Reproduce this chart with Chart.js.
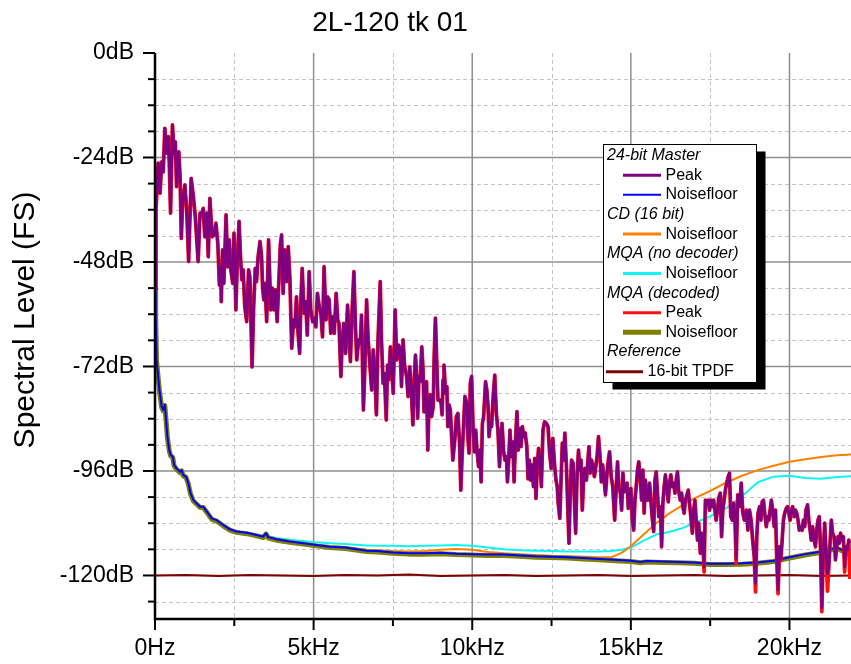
<!DOCTYPE html>
<html>
<head>
<meta charset="utf-8">
<script src="https://cdn.jsdelivr.net/npm/chart.js@4/dist/chart.umd.min.js"></script>
<style>
  html, body { margin: 0; padding: 0; background: #fff; }
</style>
</head>
<body>
<canvas id="spectrumChart" width="851" height="664"></canvas>
<script>
const FONT = 'Arial, "Liberation Sans", sans-serif';

// axis ticks (kHz / dB)
const xMajorTicks = [0, 5, 10, 15, 20];
const xTickLabels = ['0Hz', '5kHz', '10kHz', '15kHz', '20kHz'];
const xMinorTicks = [2.5, 7.5, 12.5, 17.5];
const yMajorTicks = [0, -24, -48, -72, -96, -120];
const yTickLabels = ['0dB', '-24dB', '-48dB', '-72dB', '-96dB', '-120dB'];
const yMinorTicks = [-6, -12, -18, -30, -36, -42, -54, -60, -66, -78, -84, -90, -102, -108, -114, -126];

// 24-bit master, peak spectrum [kHz, dB]
const masterPeak = [
  [0.00,-54.4],[0.03,-36.1],[0.10,-25.3],[0.16,-32.2],[0.21,-25.0],[0.26,-27.3],[0.31,-17.3],[0.37,-23.0],
  [0.42,-19.2],[0.45,-25.3],[0.49,-36.8],[0.55,-16.5],[0.60,-23.0],[0.64,-20.4],[0.68,-30.7],[0.75,-22.7],
  [0.79,-28.4],[0.83,-42.6],[0.87,-34.5],[0.94,-30.3],[1.00,-36.1],[1.06,-47.9],[1.14,-28.8],[1.21,-33.0],
  [1.27,-37.6],[1.31,-42.2],[1.36,-47.9],[1.42,-36.8],[1.47,-37.2],[1.52,-35.7],[1.57,-42.2],[1.63,-36.8],
  [1.68,-46.8],[1.73,-33.4],[1.80,-42.2],[1.86,-41.8],[1.92,-39.1],[1.98,-43.7],[2.03,-53.3],[2.07,-49.1],
  [2.09,-57.1],[2.13,-45.2],[2.17,-52.9],[2.24,-37.2],[2.29,-49.1],[2.34,-42.9],[2.39,-49.8],[2.45,-52.9],
  [2.49,-41.4],[2.55,-59.0],[2.59,-49.1],[2.65,-38.7],[2.70,-47.5],[2.74,-52.1],[2.78,-49.8],[2.83,-58.3],
  [2.89,-61.7],[2.95,-49.8],[2.99,-51.4],[3.06,-72.1],[3.11,-58.3],[3.16,-49.5],[3.20,-52.5],[3.25,-46.8],
  [3.31,-43.3],[3.36,-46.8],[3.39,-53.7],[3.43,-56.7],[3.47,-52.9],[3.52,-61.7],[3.58,-42.9],[3.65,-59.0],
  [3.70,-54.0],[3.75,-59.0],[3.80,-54.4],[3.85,-61.7],[3.91,-51.4],[3.95,-44.1],[3.99,-41.8],[4.04,-55.2],
  [4.09,-45.2],[4.15,-52.5],[4.20,-44.5],[4.25,-51.4],[4.31,-67.8],[4.37,-61.3],[4.41,-62.9],[4.46,-56.0],
  [4.51,-64.4],[4.56,-69.0],[4.60,-56.7],[4.64,-49.5],[4.70,-59.8],[4.75,-57.1],[4.80,-64.8],[4.86,-50.2],
  [4.91,-59.0],[4.97,-61.7],[5.02,-60.9],[5.07,-62.9],[5.12,-55.2],[5.18,-58.3],[5.23,-59.8],[5.28,-65.2],
  [5.33,-49.1],[5.39,-61.3],[5.44,-56.0],[5.49,-56.7],[5.54,-64.4],[5.60,-60.6],[5.65,-64.4],[5.71,-55.2],
  [5.76,-61.3],[5.80,-62.1],[5.86,-74.3],[5.90,-66.7],[5.95,-62.1],[6.01,-69.0],[6.07,-57.9],[6.11,-63.6],
  [6.16,-70.9],[6.21,-59.8],[6.27,-50.2],[6.32,-62.9],[6.36,-70.5],[6.42,-65.9],[6.47,-66.7],[6.51,-60.2],
  [6.57,-82.0],[6.61,-73.6],[6.67,-56.7],[6.72,-65.9],[6.77,-71.3],[6.83,-77.4],[6.88,-68.2],[6.93,-73.6],
  [6.98,-83.1],[7.03,-65.9],[7.10,-52.5],[7.14,-66.0],[7.19,-75.9],[7.23,-73.6],[7.29,-84.3],[7.33,-71.7],
  [7.37,-75.1],[7.42,-67.5],[7.46,-72.1],[7.51,-78.2],[7.57,-59.0],[7.62,-70.5],[7.68,-67.1],[7.73,-68.2],
  [7.77,-76.6],[7.82,-65.9],[7.87,-72.1],[7.93,-74.3],[7.98,-78.9],[8.03,-72.1],[8.08,-77.4],[8.13,-85.4],
  [8.17,-75.9],[8.21,-69.4],[8.25,-74.3],[8.28,-83.9],[8.32,-74.3],[8.36,-75.5],[8.41,-67.5],[8.45,-72.8],
  [8.48,-82.4],[8.51,-80.5],[8.56,-75.5],[8.60,-91.2],[8.64,-79.7],[8.68,-78.5],[8.72,-83.5],[8.77,-81.2],
  [8.80,-69.8],[8.84,-60.9],[8.88,-70.5],[8.92,-79.7],[8.98,-79.7],[9.02,-80.5],[9.05,-83.1],[9.08,-75.1],
  [9.11,-71.7],[9.16,-78.2],[9.20,-76.6],[9.23,-85.8],[9.27,-80.8],[9.31,-82.0],[9.35,-88.1],[9.39,-93.5],
  [9.45,-88.9],[9.50,-83.5],[9.55,-82.8],[9.60,-89.6],[9.64,-100.4],[9.68,-92.7],[9.72,-86.6],[9.77,-78.9],
  [9.83,-80.5],[9.86,-88.1],[9.90,-91.9],[9.94,-75.9],[9.98,-74.3],[10.03,-86.6],[10.07,-91.6],[10.11,-86.6],
  [10.15,-91.2],[10.20,-95.0],[10.24,-91.2],[10.28,-98.5],[10.32,-85.1],[10.36,-83.5],[10.42,-75.5],[10.46,-77.4],
  [10.50,-81.2],[10.53,-88.1],[10.57,-85.1],[10.61,-85.8],[10.66,-78.9],[10.71,-74.0],[10.76,-82.8],[10.81,-86.6],
  [10.86,-95.0],[10.90,-88.9],[10.94,-85.1],[10.99,-91.6],[11.03,-93.5],[11.08,-92.7],[11.11,-98.5],[11.15,-93.5],
  [11.19,-86.6],[11.23,-92.7],[11.28,-89.3],[11.32,-98.5],[11.36,-89.6],[11.41,-82.4],[11.45,-91.2],[11.50,-86.2],
  [11.54,-90.4],[11.58,-85.8],[11.62,-88.1],[11.67,-87.3],[11.72,-90.4],[11.76,-97.8],[11.80,-93.5],[11.84,-98.1],
  [11.88,-94.6],[11.93,-99.6],[11.97,-93.1],[12.01,-102.3],[12.05,-95.0],[12.09,-90.8],[12.14,-94.2],[12.18,-99.6],
  [12.23,-86.6],[12.28,-84.7],[12.34,-85.1],[12.39,-85.8],[12.44,-91.9],[12.49,-95.4],[12.54,-88.5],[12.60,-95.0],
  [12.64,-98.1],[12.68,-99.6],[12.71,-103.4],[12.76,-106.9],[12.80,-98.1],[12.84,-89.6],[12.88,-93.5],[12.92,-87.3],
  [12.97,-95.0],[13.01,-104.2],[13.05,-112.6],[13.09,-101.1],[13.13,-93.5],[13.18,-94.2],[13.22,-102.7],[13.26,-110.3],
  [13.30,-98.1],[13.35,-91.2],[13.39,-95.8],[13.43,-93.5],[13.47,-105.0],[13.51,-98.1],[13.55,-95.4],[13.60,-98.1],
  [13.64,-94.2],[13.68,-90.4],[13.72,-96.5],[13.76,-93.5],[13.81,-95.0],[13.85,-97.3],[13.89,-95.4],[13.94,-92.3],
  [13.98,-88.1],[14.03,-92.7],[14.07,-98.5],[14.11,-94.6],[14.15,-97.3],[14.20,-101.5],[14.25,-96.5],[14.29,-93.5],
  [14.33,-91.6],[14.38,-97.3],[14.43,-99.6],[14.49,-107.3],[14.54,-99.6],[14.58,-93.9],[14.62,-99.6],[14.67,-101.1],
  [14.71,-105.0],[14.75,-96.5],[14.79,-100.8],[14.83,-100.0],[14.88,-98.8],[14.92,-104.6],[14.96,-101.9],[15.00,-100.0],
  [15.05,-107.3],[15.09,-109.6],[15.13,-102.7],[15.17,-99.6],[15.21,-95.8],[15.25,-93.9],[15.30,-98.1],[15.34,-102.7],
  [15.38,-95.8],[15.42,-105.7],[15.46,-98.1],[15.51,-102.7],[15.55,-102.7],[15.59,-98.8],[15.63,-102.7],[15.67,-106.5],
  [15.72,-109.9],[15.76,-98.1],[15.80,-96.2],[15.84,-101.1],[15.88,-106.5],[15.93,-104.2],[15.97,-113.4],[16.01,-103.4],
  [16.05,-99.6],[16.09,-96.9],[16.14,-100.4],[16.18,-103.1],[16.22,-98.8],[16.26,-96.9],[16.30,-99.6],[16.35,-98.8],
  [16.39,-101.1],[16.43,-98.1],[16.47,-96.2],[16.51,-100.8],[16.56,-102.7],[16.60,-101.1],[16.64,-104.2],[16.68,-105.7],
  [16.72,-102.7],[16.77,-101.5],[16.81,-100.4],[16.85,-103.4],[16.89,-106.5],[16.94,-110.3],[16.98,-105.0],[17.02,-102.7],
  [17.06,-107.3],[17.10,-111.9],[17.14,-108.0],[17.19,-114.9],[17.23,-110.3],[17.27,-111.9],[17.31,-118.0],[17.35,-102.7],
  [17.40,-103.4],[17.44,-102.7],[17.48,-105.0],[17.52,-102.7],[17.56,-104.2],[17.61,-102.7],[17.65,-105.0],[17.69,-107.3],
  [17.73,-105.0],[17.77,-102.3],[17.82,-101.1],[17.86,-111.1],[17.90,-105.0],[17.94,-102.7],[17.98,-100.4],[18.02,-98.8],
  [18.07,-97.3],[18.11,-96.5],[18.15,-106.5],[18.20,-107.3],[18.24,-103.4],[18.28,-106.5],[18.32,-116.1],[18.37,-101.5],
  [18.43,-104.2],[18.48,-98.8],[18.53,-105.7],[18.58,-107.3],[18.64,-105.0],[18.69,-109.6],[18.74,-105.0],[18.79,-107.3],
  [18.84,-111.9],[18.89,-115.7],[18.93,-121.8],[18.97,-111.1],[19.01,-105.7],[19.06,-104.2],[19.10,-107.3],[19.14,-103.1],
  [19.18,-102.7],[19.22,-105.7],[19.27,-108.8],[19.31,-106.5],[19.35,-107.3],[19.39,-105.0],[19.43,-102.7],[19.47,-105.0],
  [19.52,-108.8],[19.56,-105.0],[19.60,-116.4],[19.64,-123.3],[19.69,-113.4],[19.73,-116.4],[19.77,-111.9],[19.81,-107.3],
  [19.85,-105.7],[19.90,-104.6],[19.94,-104.2],[19.98,-105.7],[20.02,-107.3],[20.06,-105.0],[20.10,-104.2],[20.15,-106.5],
  [20.19,-105.0],[20.23,-105.7],[20.27,-107.3],[20.31,-109.6],[20.35,-108.8],[20.40,-109.6],[20.44,-107.3],[20.48,-108.8],
  [20.52,-105.0],[20.57,-103.8],[20.61,-107.3],[20.65,-109.6],[20.69,-111.9],[20.73,-108.8],[20.78,-111.9],[20.82,-113.4],
  [20.86,-109.6],[20.90,-107.3],[20.94,-106.5],[20.98,-114.1],[21.02,-127.5],[21.06,-116.4],[21.11,-108.0],[21.15,-114.1],
  [21.20,-119.5],[21.24,-118.0],[21.28,-112.6],[21.32,-107.3],[21.36,-110.3],[21.41,-111.1],[21.45,-116.4],[21.49,-113.4],
  [21.53,-111.1],[21.57,-112.6],[21.61,-110.3],[21.66,-111.9],[21.70,-111.1],[21.74,-118.0],[21.78,-113.4],[21.83,-114.1],
  [21.87,-111.9],[21.91,-112.6]
];

// MQA decoded peak follows the master except at these deeper dips
const decodedPeakDips = [
  [17.31,-119.2],[18.32,-117.2],[18.93,-123.8],[19.64,-124.2],[21.02,-128.3],[21.20,-123.6],[21.74,-119.2],[21.91,-120.8]
];

// 24-bit master noisefloor
const masterFloor = [
  [0.00,-54.0],[0.02,-60.0],[0.05,-70.5],[0.14,-77.4],[0.21,-81.2],[0.26,-82.0],[0.31,-80.8],[0.35,-84.3],
  [0.39,-88.1],[0.45,-91.2],[0.49,-92.3],[0.56,-92.7],[0.60,-94.6],[0.68,-95.4],[0.79,-96.2],[0.84,-95.8],
  [0.89,-96.9],[0.98,-97.3],[1.05,-98.8],[1.12,-101.1],[1.21,-102.7],[1.31,-103.4],[1.42,-104.2],[1.52,-104.2],
  [1.63,-105.3],[1.79,-106.9],[1.94,-107.3],[2.15,-108.4],[2.36,-109.4],[2.57,-109.9],[2.89,-110.2],[3.20,-110.7],
  [3.41,-111.1],[3.50,-110.3],[3.57,-111.2],[3.83,-111.7],[4.25,-112.2],[4.67,-112.6],[5.09,-113.0],[5.51,-113.4],
  [6.00,-113.6],[6.67,-114.3],[7.00,-114.4],[7.50,-114.7],[8.00,-114.9],[8.50,-114.9],[9.00,-114.8],[9.50,-115.0],
  [10.00,-115.1],[10.50,-115.2],[11.00,-115.2],[11.50,-115.4],[12.00,-115.6],[12.50,-115.7],[13.00,-115.8],[13.50,-116.0],
  [14.00,-116.2],[14.50,-116.4],[15.00,-116.6],[15.30,-116.9],[15.50,-116.7],[16.00,-116.8],[16.50,-116.9],[17.00,-117.0],
  [17.50,-117.3],[18.00,-117.3],[18.50,-117.2],[19.00,-117.0],[19.50,-116.6],[20.00,-115.8],[20.50,-115.1],[21.00,-114.5],
  [21.50,-113.6],[21.70,-114.3],[21.94,-115.0]
];

// MQA decoded noisefloor
const decodedFloor = [
  [0.00,-54.2],[0.02,-60.3],[0.05,-70.8],[0.14,-77.6],[0.21,-81.4],[0.26,-82.2],[0.31,-81.0],[0.35,-84.5],
  [0.39,-88.3],[0.45,-91.4],[0.49,-92.5],[0.56,-92.9],[0.60,-94.8],[0.68,-95.6],[0.79,-96.4],[0.84,-96.0],
  [0.89,-97.1],[0.98,-97.5],[1.05,-99.0],[1.12,-101.3],[1.21,-102.9],[1.31,-103.6],[1.42,-104.4],[1.52,-104.4],
  [1.63,-105.5],[1.79,-107.1],[1.94,-107.5],[2.15,-108.6],[2.36,-109.6],[2.57,-110.1],[2.89,-110.4],[3.20,-110.9],
  [3.41,-111.3],[3.50,-110.5],[3.57,-111.4],[3.83,-111.9],[4.25,-112.4],[4.67,-112.8],[5.09,-113.2],[5.51,-113.6],
  [6.00,-113.8],[6.67,-114.5],[7.00,-114.6],[7.50,-114.9],[8.00,-115.1],[8.50,-115.1],[9.00,-115.0],[9.50,-115.2],
  [10.00,-115.3],[10.50,-115.4],[11.00,-115.4],[11.50,-115.6],[12.00,-115.8],[12.50,-115.9],[13.00,-116.0],[13.50,-116.2],
  [14.00,-116.4],[14.50,-116.6],[15.00,-116.8],[15.30,-117.1],[15.50,-116.9],[16.00,-117.0],[16.50,-117.1],[17.00,-117.2],
  [17.50,-117.5],[18.00,-117.5],[18.50,-117.4],[19.00,-117.2],[19.50,-116.8],[20.00,-116.0],[20.50,-115.3],[21.00,-114.7],
  [21.50,-113.8],[21.70,-114.5],[21.94,-115.2]
];

// CD (16 bit) noisefloor
const cdFloor = [
  [0.00,-54.0],[0.02,-60.0],[0.05,-70.5],[0.14,-77.4],[0.21,-81.2],[0.26,-82.0],[0.31,-80.8],[0.35,-84.3],
  [0.39,-88.1],[0.45,-91.2],[0.49,-92.3],[0.56,-92.7],[0.60,-94.6],[0.68,-95.4],[0.79,-96.2],[0.84,-95.8],
  [0.89,-96.9],[0.98,-97.3],[1.05,-98.8],[1.12,-101.1],[1.21,-102.7],[1.31,-103.4],[1.42,-104.2],[1.52,-104.2],
  [1.63,-105.3],[1.79,-106.9],[1.94,-107.3],[2.15,-108.4],[2.36,-109.4],[2.57,-109.9],[2.89,-110.2],[3.20,-110.7],
  [3.41,-111.1],[3.50,-110.3],[3.57,-111.2],[3.83,-111.7],[4.25,-112.2],[4.67,-112.6],[5.09,-113.0],[5.51,-113.3],
  [6.00,-113.5],[6.67,-114.1],[7.00,-114.2],[7.50,-114.4],[8.00,-114.5],[8.50,-114.4],[9.00,-114.1],[9.50,-113.9],
  [10.00,-114.1],[10.50,-114.6],[11.00,-114.9],[11.50,-115.1],[12.00,-115.3],[12.50,-115.5],[13.00,-115.6],[13.50,-115.7],
  [14.00,-115.8],[14.40,-115.8],[14.70,-114.8],[15.00,-113.3],[15.40,-110.6],[15.80,-108.0],[16.20,-105.8],[16.60,-104.0],
  [17.00,-102.3],[17.50,-100.6],[18.00,-98.7],[18.50,-97.1],[19.00,-95.8],[19.50,-94.8],[20.00,-93.9],[20.50,-93.3],
  [21.00,-92.8],[21.50,-92.4],[21.94,-92.2]
];

// MQA (no decoder) noisefloor
const mqaRawFloor = [
  [0.00,-54.0],[0.02,-60.0],[0.05,-70.5],[0.14,-77.4],[0.21,-81.2],[0.26,-82.0],[0.31,-80.8],[0.35,-84.3],
  [0.39,-88.1],[0.45,-91.2],[0.49,-92.3],[0.56,-92.7],[0.60,-94.6],[0.68,-95.4],[0.79,-96.2],[0.84,-95.8],
  [0.89,-96.9],[0.98,-97.3],[1.05,-98.8],[1.12,-101.1],[1.21,-102.7],[1.31,-103.4],[1.42,-104.2],[1.52,-104.2],
  [1.63,-105.3],[1.79,-106.9],[1.94,-107.3],[2.15,-108.4],[2.36,-109.4],[2.57,-109.9],[2.89,-110.2],[3.20,-110.6],
  [3.41,-110.9],[3.50,-110.1],[3.57,-111.0],[3.83,-111.4],[4.25,-111.8],[4.67,-112.1],[5.09,-112.4],[5.51,-112.6],
  [6.00,-112.8],[6.67,-113.1],[7.00,-113.2],[7.50,-113.2],[8.00,-113.3],[8.50,-113.2],[9.00,-113.1],[9.50,-113.0],
  [10.00,-113.2],[10.50,-113.6],[11.00,-114.0],[11.50,-114.2],[12.00,-114.3],[12.50,-114.4],[13.00,-114.5],[13.50,-114.5],
  [14.00,-114.5],[14.40,-114.4],[14.70,-114.1],[15.00,-113.6],[15.40,-112.0],[15.80,-110.6],[16.20,-110.0],[16.60,-109.2],
  [17.00,-108.0],[17.50,-106.4],[18.00,-104.6],[18.50,-101.8],[19.00,-98.6],[19.50,-97.3],[20.00,-97.1],[20.50,-97.6],
  [21.00,-97.8],[21.50,-97.4],[21.94,-97.2]
];

// Reference: 16-bit TPDF dither
const tpdfFloor = [
  [0.0,-120.0],[1.0,-119.9],[2.0,-120.1],[3.0,-119.9],[4.0,-120.0],[5.0,-120.1],[6.0,-119.9],[7.0,-120.0],
  [8.0,-119.8],[9.0,-120.1],[10.0,-120.0],[11.0,-119.9],[12.0,-120.1],[13.0,-120.0],[14.0,-119.9],[15.0,-120.1],
  [16.0,-120.0],[17.0,-119.9],[18.0,-120.1],[19.0,-120.0],[20.0,-119.9],[21.0,-120.1],[21.94,-120.0]
];

const toPoints = arr => arr.map(([f, db]) => ({ x: f, y: db }));

const decodedPeak = masterPeak.map(([f, db]) => {
  const dip = decodedPeakDips.find(d => d[0] === f);
  return { x: f, y: dip ? dip[1] : db };
});

// legend order; `order` controls which line sits on top
const datasets = [
  { group: '24-bit Master', label: 'Peak', data: toPoints(masterPeak), borderColor: '#800080', borderWidth: 2.8, order: 0, legendWidth: 3 },
  { label: 'Noisefloor', data: toPoints(masterFloor), borderColor: '#0000ff', borderWidth: 2, order: 2, legendWidth: 2 },
  { group: 'CD (16 bit)', label: 'Noisefloor', data: toPoints(cdFloor), borderColor: '#ff8000', borderWidth: 2, order: 4, legendWidth: 3 },
  { group: 'MQA (no decoder)', label: 'Noisefloor', data: toPoints(mqaRawFloor), borderColor: '#10f4f4', borderWidth: 2, order: 5, legendWidth: 3 },
  { group: 'MQA (decoded)', label: 'Peak', data: decodedPeak, borderColor: '#ff1010', borderWidth: 3.8, order: 1, legendWidth: 3 },
  { label: 'Noisefloor', data: toPoints(decodedFloor), borderColor: '#808000', borderWidth: 5, order: 3, legendWidth: 5 },
  { group: 'Reference', label: '16-bit TPDF', data: toPoints(tpdfFloor), borderColor: '#800000', borderWidth: 2, order: 6, legendWidth: 3, shortIndent: true }
];

function drawGridAndAxes(chart, phase) {
  const { ctx, chartArea: a, scales: { x, y } } = chart;
  ctx.save();
  if (phase === 'grid') {
    ctx.lineWidth = 1;
    ctx.strokeStyle = '#c4c4c4';
    ctx.setLineDash([4, 3]);
    yMinorTicks.forEach(v => {
      const p = Math.round(y.getPixelForValue(v)) + 0.5;
      ctx.beginPath(); ctx.moveTo(a.left, p); ctx.lineTo(a.right, p); ctx.stroke();
    });
    xMinorTicks.forEach(v => {
      const p = Math.round(x.getPixelForValue(v)) + 0.5;
      ctx.beginPath(); ctx.moveTo(p, a.top); ctx.lineTo(p, a.bottom); ctx.stroke();
    });
    ctx.setLineDash([]);
    ctx.strokeStyle = '#8f8f8f';
    ctx.lineWidth = 1.5;
    yMajorTicks.filter(v => v !== 0).forEach(v => {
      const p = y.getPixelForValue(v);
      ctx.beginPath(); ctx.moveTo(a.left, p); ctx.lineTo(a.right, p); ctx.stroke();
    });
    xMajorTicks.filter(v => v !== 0).forEach(v => {
      const p = x.getPixelForValue(v);
      ctx.beginPath(); ctx.moveTo(p, a.top); ctx.lineTo(p, a.bottom); ctx.stroke();
    });
  } else {
    ctx.strokeStyle = '#000';
    ctx.lineWidth = 2.5;
    ctx.beginPath();
    ctx.moveTo(a.left, a.top); ctx.lineTo(a.left, a.bottom); ctx.lineTo(a.right, a.bottom);
    ctx.stroke();
    ctx.lineWidth = 2;
    yMajorTicks.forEach(v => {
      const p = y.getPixelForValue(v);
      ctx.beginPath(); ctx.moveTo(a.left - 12, p); ctx.lineTo(a.left, p); ctx.stroke();
    });
    yMinorTicks.forEach(v => {
      const p = y.getPixelForValue(v);
      ctx.beginPath(); ctx.moveTo(a.left - 7, p); ctx.lineTo(a.left, p); ctx.stroke();
    });
    xMajorTicks.forEach(v => {
      const p = x.getPixelForValue(v);
      ctx.beginPath(); ctx.moveTo(p, a.bottom); ctx.lineTo(p, a.bottom + 11); ctx.stroke();
    });
    xMinorTicks.forEach(v => {
      const p = x.getPixelForValue(v);
      ctx.beginPath(); ctx.moveTo(p, a.bottom); ctx.lineTo(p, a.bottom + 7); ctx.stroke();
    });

    // chart title and y axis title
    ctx.fillStyle = '#000';
    ctx.textAlign = 'center';
    ctx.textBaseline = 'middle';
    ctx.font = '28px ' + FONT;
    ctx.fillText('2L-120 tk 01', 390, 23);
    ctx.translate(26, 320);
    ctx.rotate(-Math.PI / 2);
    ctx.font = '30px ' + FONT;
    ctx.fillText('Spectral Level (FS)', 0, 0);
  }
  ctx.restore();
}

function drawLegend(chart) {
  const { ctx } = chart;
  const box = { x: 603.5, y: 144.5, w: 153, h: 238 };
  ctx.save();
  ctx.fillStyle = '#000';
  ctx.fillRect(box.x + 9, box.y + 7, box.w, box.h);
  ctx.fillStyle = '#fff';
  ctx.fillRect(box.x, box.y, box.w, box.h);
  ctx.strokeStyle = '#000';
  ctx.lineWidth = 1;
  ctx.strokeRect(box.x, box.y, box.w, box.h);

  ctx.textBaseline = 'middle';
  ctx.textAlign = 'left';
  let row = 0;
  const rowY = i => 155.5 + i * 19.65;
  datasets.forEach(ds => {
    if (ds.group) {
      ctx.font = 'italic 16px ' + FONT;
      ctx.fillStyle = '#000';
      ctx.fillText(ds.group, 607, rowY(row));
      row++;
    }
    const yy = rowY(row);
    const x0 = ds.shortIndent ? 606 : 623;
    const x1 = ds.shortIndent ? 643 : 661;
    ctx.strokeStyle = ds.borderColor;
    ctx.lineWidth = ds.legendWidth;
    ctx.beginPath(); ctx.moveTo(x0, yy); ctx.lineTo(x1, yy); ctx.stroke();
    ctx.font = '16px ' + FONT;
    ctx.fillStyle = '#000';
    ctx.fillText(ds.label, x1 + 4.5, yy);
    row++;
  });
  ctx.restore();
}

const decorPlugin = {
  id: 'decor',
  beforeDatasetsDraw(chart) { drawGridAndAxes(chart, 'grid'); },
  afterDatasetsDraw(chart) { drawGridAndAxes(chart, 'axes'); drawLegend(chart); }
};

Chart.defaults.font.family = FONT;

new Chart(document.getElementById('spectrumChart'), {
  type: 'line',
  data: {
    datasets: datasets.map(ds => ({
      label: ds.label,
      data: ds.data,
      borderColor: ds.borderColor,
      borderWidth: ds.borderWidth,
      order: ds.order,
      pointRadius: 0,
      tension: 0,
      fill: false,
      borderJoinStyle: 'round'
    }))
  },
  options: {
    responsive: false,
    devicePixelRatio: 1,
    animation: false,
    events: [],
    layout: { padding: { top: 53, left: 0, right: 0, bottom: 0 } },
    plugins: { legend: { display: false }, tooltip: { enabled: false }, title: { display: false } },
    scales: {
      x: {
        type: 'linear',
        min: 0,
        max: 21.94,
        afterFit: s => { s.height = 45; },
        afterBuildTicks: s => { s.ticks = xMajorTicks.map(v => ({ value: v })); },
        grid: { display: false, drawTicks: false },
        border: { display: false },
        ticks: {
          color: '#000',
          font: { size: 23 },
          padding: 16,
          maxRotation: 0,
          autoSkip: false,
          callback: (v, i) => xTickLabels[i]
        }
      },
      y: {
        type: 'linear',
        min: -130,
        max: 0,
        afterFit: s => { s.width = 155; },
        afterBuildTicks: s => { s.ticks = yMajorTicks.slice().reverse().map(v => ({ value: v })); },
        grid: { display: false, drawTicks: false },
        border: { display: false },
        ticks: {
          color: '#000',
          font: { size: 23 },
          padding: 21,
          autoSkip: false,
          callback: v => yTickLabels[yMajorTicks.indexOf(v)]
        }
      }
    }
  },
  plugins: [decorPlugin]
});
</script>
</body>
</html>
